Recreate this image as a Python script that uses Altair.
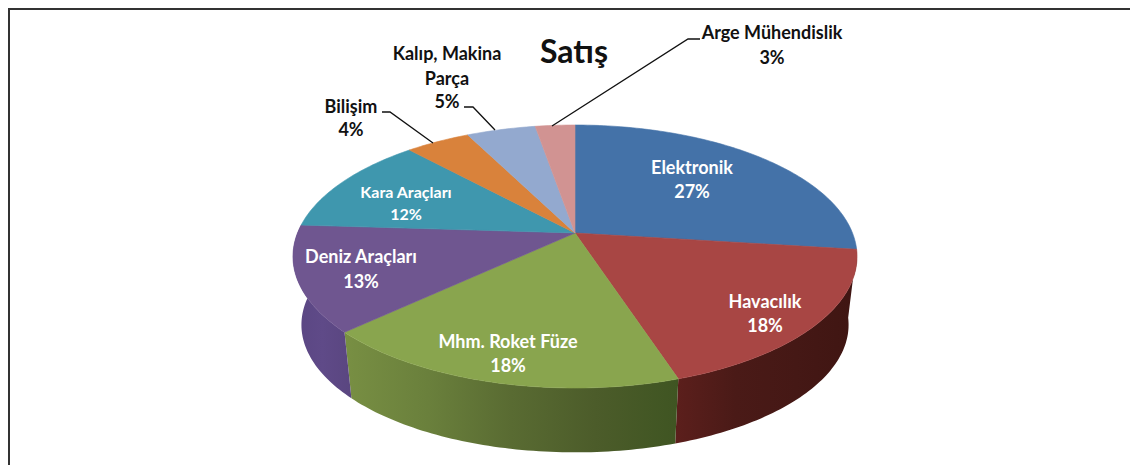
import math
import altair as alt
import pandas as pd

categories = ["Elektronik", "Havacılık", "Mhm. Roket Füze", "Deniz Araçları",
              "Kara Araçları", "Bilişim", "Kalıp, Makina Parça", "Arge Mühendislik"]
shares = [27, 18, 18, 13, 12.2, 4.4, 4.7, 2.7]
colors = ["#4472a8", "#a84644", "#89a54e", "#6f5690", "#3f97ae", "#d9823b", "#93a9cf", "#d19392"]

wall_stops = {
    1: ["#5c1f1c", "#4a1a17", "#451815", "#3f1512"],
    2: ["#788f43", "#6a803c", "#596b32", "#4c5c2a", "#3f5522"],
    3: ["#5a4682", "#5f4a88", "#5a4680"],
}

label_lines = [
    ["Elektronik", "27%"], ["Havacılık", "18%"], ["Mhm. Roket Füze", "18%"],
    ["Deniz Araçları", "13%"], ["Kara Araçları", "12%"], ["Bilişim", "4%"],
    ["Kalıp, Makina", "Parça", "5%"], ["Arge Mühendislik", "3%"],
]
label_x = [[692, 692], [765, 765], [508, 508], [361, 361], [406, 406], [351, 351],
           [447, 447, 447], [772, 772]]
label_y = [[169, 193], [303, 327], [343, 367], [258, 283], [193, 215], [108, 131],
           [55, 80, 103], [34, 59]]
label_color = ["white", "white", "white", "white", "white", "#111111", "#111111", "#111111"]
label_size = [18, 18, 18, 18, 16, 18, 18, 18]

leaders = [
    [(382, 112), (390, 112), (433, 143)],
    [(464, 107), (473, 107), (495, 130)],
    [(700, 39), (688, 39), (552, 126)],
]

CX, CY, A, X, K = 575, 233, 127.3, 277.5, 0.1787
BOT_S, BOT_D = 0.97, 69


def project(theta, s=1.0, d=0.0):
    u, v = math.sin(theta), math.cos(theta)
    den = 1 + K * v
    return CX + s * X * u / den, CY - s * A * v / den + d


edges = [0]
for s in shares:
    edges.append(edges[-1] + s)
edges = [e / sum(shares) * 2 * math.pi for e in edges]


def arc(t0, t1, s=1.0, d=0.0):
    n = max(2, int((t1 - t0) / math.radians(1)))
    return [project(t0 + (t1 - t0) * i / n, s, d) for i in range(n + 1)]


sx = alt.Scale(domain=[8, 1130], range=[0, 1122])
sy = alt.Scale(domain=[8, 465], range=[0, 457])


def enc(pts):
    df = pd.DataFrame({"px": [p[0] for p in pts], "py": [p[1] for p in pts], "i": range(len(pts))})
    return alt.Chart(df), dict(
        x=alt.X("px:Q", scale=sx, axis=None),
        y=alt.Y("py:Q", scale=sy, axis=None),
        order=alt.Order("i:Q"),
    )


layers = []

# side walls
for idx, stops in wall_stops.items():
    pts = arc(edges[idx], edges[idx + 1]) + arc(edges[idx], edges[idx + 1], BOT_S, BOT_D)[::-1]
    pts.append(pts[0])
    base, e = enc(pts)
    n = len(stops) - 1
    grad = alt.Gradient(gradient="linear", x1=0, x2=1, y1=0, y2=0,
                        stops=[alt.GradientStop(offset=i / n, color=c) for i, c in enumerate(stops)])
    layers.append(base.mark_line(fill=grad, strokeWidth=0).encode(**e))

# top wedges
for i, c in enumerate(colors):
    pts = [(CX, CY)] + arc(edges[i], edges[i + 1]) + [(CX, CY)]
    base, e = enc(pts)
    layers.append(base.mark_line(fill=c, stroke=c, strokeWidth=0.6).encode(**e))

# leader lines
for pts in leaders:
    base, e = enc(pts)
    layers.append(base.mark_line(stroke="#111111", strokeWidth=1.3).encode(**e))

# labels
for lines, xs, ys, col, size in zip(label_lines, label_x, label_y, label_color, label_size):
    df = pd.DataFrame({"t": lines, "px": xs, "py": ys})
    layers.append(alt.Chart(df).mark_text(font="Lato", fontWeight="bold", fontSize=size, color=col,
                                          align="center", baseline="middle").encode(
        x=alt.X("px:Q", scale=sx, axis=None), y=alt.Y("py:Q", scale=sy, axis=None), text="t:N"))

# title
layers.append(alt.Chart(pd.DataFrame({"t": ["Satış"], "px": [574], "py": [53]})).mark_text(
    font="Lato", fontWeight="bold", fontSize=32, color="#111111", align="center", baseline="middle").encode(
    x=alt.X("px:Q", scale=sx, axis=None), y=alt.Y("py:Q", scale=sy, axis=None), text="t:N"))

# frame
frame_color = "#333333"
frame = alt.Chart(pd.DataFrame({"a": [0]}))
layers.append(frame.mark_rule(color=frame_color, strokeWidth=2).encode(
    x=alt.value(1), y=alt.value(0), y2=alt.value(457)))
layers.append(frame.mark_rule(color=frame_color, strokeWidth=2).encode(
    y=alt.value(1), x=alt.value(0), x2=alt.value(1122)))

chart = alt.layer(*layers).properties(width=1122, height=457, padding=0, autosize="none",
                                      background="white").configure_view(stroke=None)
chart.save("out.html", embed_options={"renderer": "svg", "actions": False})
